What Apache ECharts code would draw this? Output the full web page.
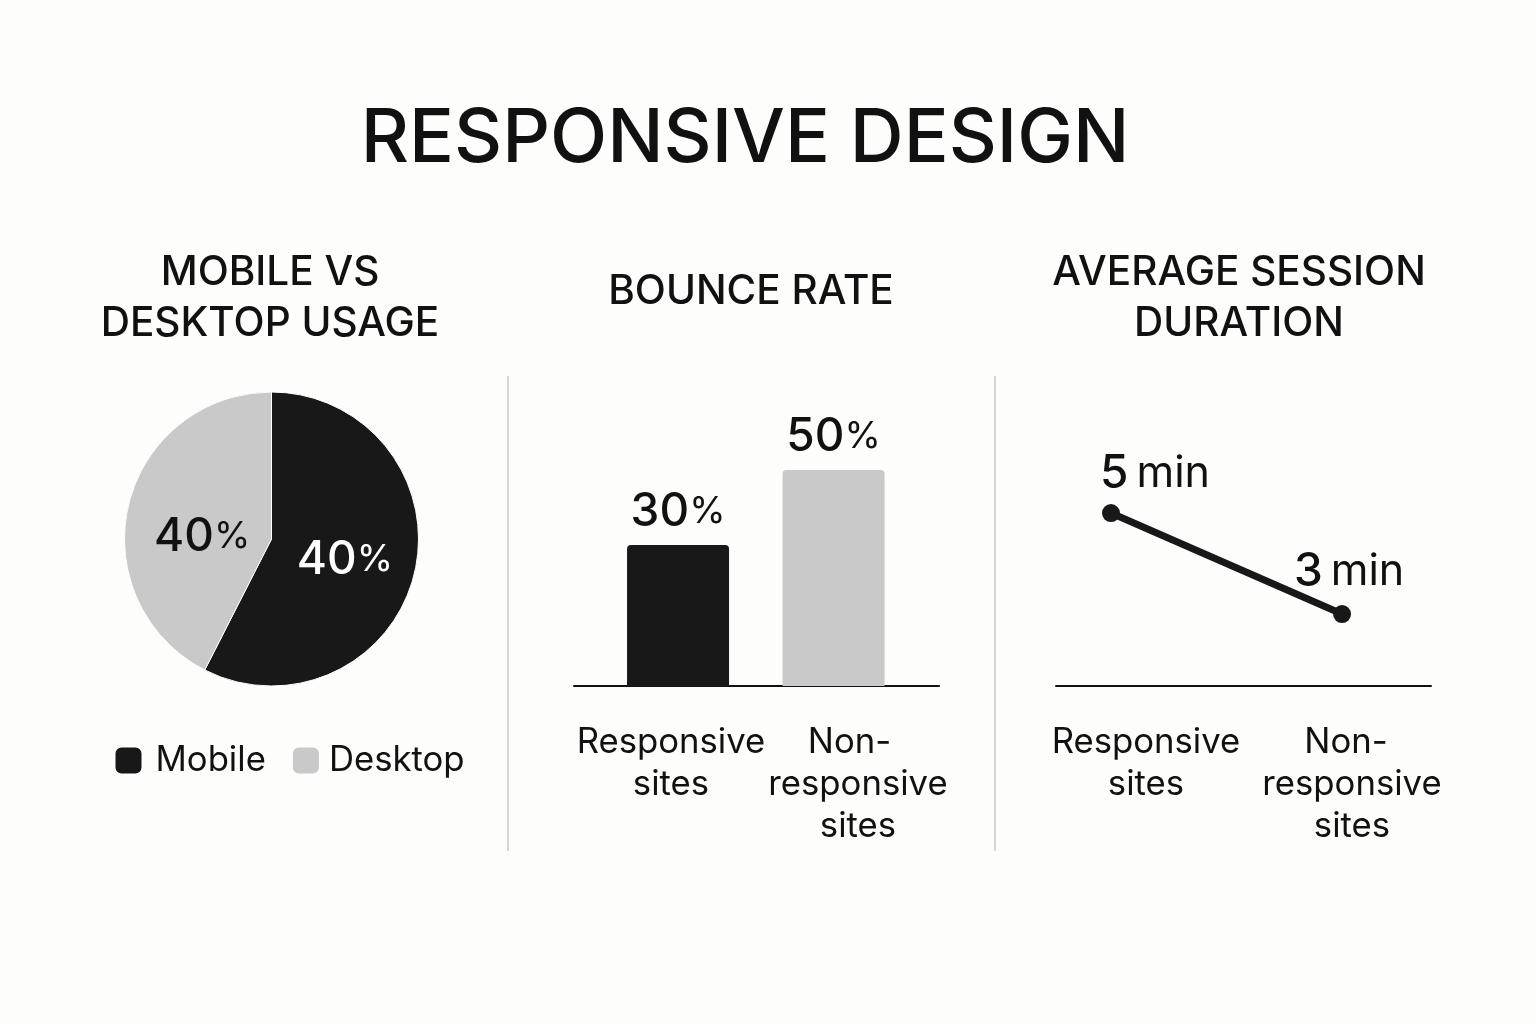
<!DOCTYPE html>
<html>
<head>
<meta charset="utf-8">
<style>
    html, body { margin: 0; padding: 0; background: #FDFDFB; }
    #main { width: 1536px; height: 1024px; }
</style>
<script src="https://cdn.jsdelivr.net/npm/echarts@6/dist/echarts.min.js"></script>
</head>
<body>
<div id="main"></div>
<script>
let myChart = echarts.init(document.getElementById('main'));

// data
let pieNames = ['Mobile', 'Desktop'];
let pieValues = [57.5, 42.5];
let pieLabels = ['40', '40'];   // the picture prints 40% on both slices

let siteLabels = ['Responsive\nsites', 'Non-\nresponsive\nsites'];
let bounceValues = [30, 50];
let sessionValues = [5, 3];

let black = '#181818';
let gray = '#C9C9C9';
let ink = '#111111';
let font = 'Inter';

function panelTitle(text, x, y) {
    return {
        text: text,
        left: x,
        top: y,
        textAlign: 'center',
        textStyle: {fontFamily: font, fontSize: 40.5, fontWeight: 500, color: ink, lineHeight: 51}
    };
}

// big number + lighter small unit
let numberRich = {
    n: {fontFamily: font, fontSize: 46, fontWeight: 500, color: ink},
    p: {fontFamily: font, fontSize: 37, fontWeight: 400, color: ink},
    w: {fontFamily: font, fontSize: 46, fontWeight: 500, color: '#fff'},
    q: {fontFamily: font, fontSize: 37, fontWeight: 400, color: '#fff'},
    u: {fontFamily: font, fontSize: 43, fontWeight: 400, color: ink, padding: [0, 0, 0, 8]}
};

function markX(gridIndex, min, max) {
    return {
        type: 'value',
        gridIndex: gridIndex,
        min: min,
        max: max,
        axisLine: {onZero: false, lineStyle: {color: ink, width: 2}},
        axisTick: {show: false},
        axisLabel: {show: false},
        splitLine: {show: false}
    };
}

// "Non-" sits left of the lines under it in the picture
function labelX(gridIndex, nonPad) {
    return {
        type: 'category',
        gridIndex: gridIndex,
        data: siteLabels,
        axisLine: {show: false},
        axisTick: {show: false},
        axisLabel: {
            interval: 0,
            margin: 36,
            fontFamily: font,
            fontSize: 34.7,
            color: ink,
            lineHeight: 42,
            formatter: function (v) {
                return v.replace('Non-', '{a|Non-}');
            },
            rich: {
                a: {fontFamily: font, fontSize: 34.7, color: ink, lineHeight: 42, padding: [0, nonPad, 0, 0]}
            }
        }
    };
}

let option = {
    backgroundColor: '#FDFDFB',
    animation: false,
    title: [
        {
            text: 'RESPONSIVE DESIGN',
            left: 740,
            top: 97,
            textAlign: 'center',
            textStyle: {fontFamily: font, fontSize: 74.6, fontWeight: 500, color: ink}
        },
        panelTitle('MOBILE VS\nDESKTOP USAGE', 265, 242),
        panelTitle('BOUNCE RATE', 746, 261),
        panelTitle('AVERAGE SESSION\nDURATION', 1234, 242)
    ],
    legend: {
        data: [
            {name: pieNames[0], textStyle: {padding: [0, 0, 0, 8]}},
            {name: pieNames[1], textStyle: {padding: [0, 0, 0, 4]}}
        ],
        left: 108.5,
        top: 738,
        itemWidth: 28,
        itemHeight: 28,
        itemGap: 25,
        icon: 'roundRect',
        textStyle: {fontFamily: font, fontSize: 34.7, color: ink}
    },
    grid: [
        {left: 574, top: 400, width: 365, height: 286},
        {left: 577.5, top: 400, width: 374, height: 286},
        {left: 1056, top: 400, width: 375, height: 286},
        {left: 1043, top: 400, width: 412, height: 286}
    ],
    xAxis: [
        markX(0, -0.669, 1.678),
        labelX(1, 17),
        markX(2, -0.238, 1.385),
        labelX(3, 12)
    ],
    yAxis: [
        // the bars are not drawn to a zero based scale, log range gives their heights
        {type: 'log', gridIndex: 0, min: 11.48, max: 80.55, show: false},
        {type: 'value', gridIndex: 1, show: false},
        {type: 'value', gridIndex: 2, min: 1.574, max: 7.24, show: false},
        {type: 'value', gridIndex: 3, show: false}
    ],
    series: [
        {
            type: 'pie',
            center: [271.5, 539],
            radius: 147,
            startAngle: 90,
            clockwise: true,
            itemStyle: {borderColor: '#FDFDFB', borderWidth: 1},
            labelLine: {show: false},
            data: pieNames.map(function (name, i) {
                return {
                    name: name,
                    value: pieValues[i],
                    itemStyle: {color: i === 0 ? black : gray},
                    label: {
                        position: 'inside',
                        offset: i === 0 ? [-1, 3] : [5, 16],
                        formatter: i === 0 ? '{w|' + pieLabels[i] + '}{q|%}' : '{n|' + pieLabels[i] + '}{p|%}',
                        rich: numberRich
                    }
                };
            })
        },
        {
            type: 'bar',
            xAxisIndex: 0,
            yAxisIndex: 0,
            barWidth: 102,
            itemStyle: {borderRadius: [4, 4, 0, 0]},
            label: {
                show: true,
                position: 'top',
                distance: 10,
                formatter: function (p) {
                    return '{n|' + p.value[1] + '}{p|%}';
                },
                rich: numberRich
            },
            data: bounceValues.map(function (v, i) {
                return {value: [i, v], itemStyle: {color: i === 0 ? black : gray}};
            })
        },
        {
            type: 'line',
            xAxisIndex: 2,
            yAxisIndex: 2,
            symbol: 'circle',
            symbolSize: 18,
            lineStyle: {color: black, width: 7},
            itemStyle: {color: black},
            label: {
                show: true,
                position: 'top',
                formatter: function (p) {
                    return '{n|' + p.value[1] + '}{u|min}';
                },
                rich: numberRich
            },
            data: sessionValues.map(function (v, i) {
                return {
                    value: [i, v],
                    label: {offset: i === 0 ? [44, -2] : [7, -5]}
                };
            })
        }
    ],
    graphic: [
        {type: 'line', shape: {x1: 508, y1: 376, x2: 508, y2: 851}, style: {stroke: '#D6D6D6', lineWidth: 2}},
        {type: 'line', shape: {x1: 995, y1: 376, x2: 995, y2: 851}, style: {stroke: '#D6D6D6', lineWidth: 2}}
    ]
};

myChart.setOption(option);
</script>
</body>
</html>
